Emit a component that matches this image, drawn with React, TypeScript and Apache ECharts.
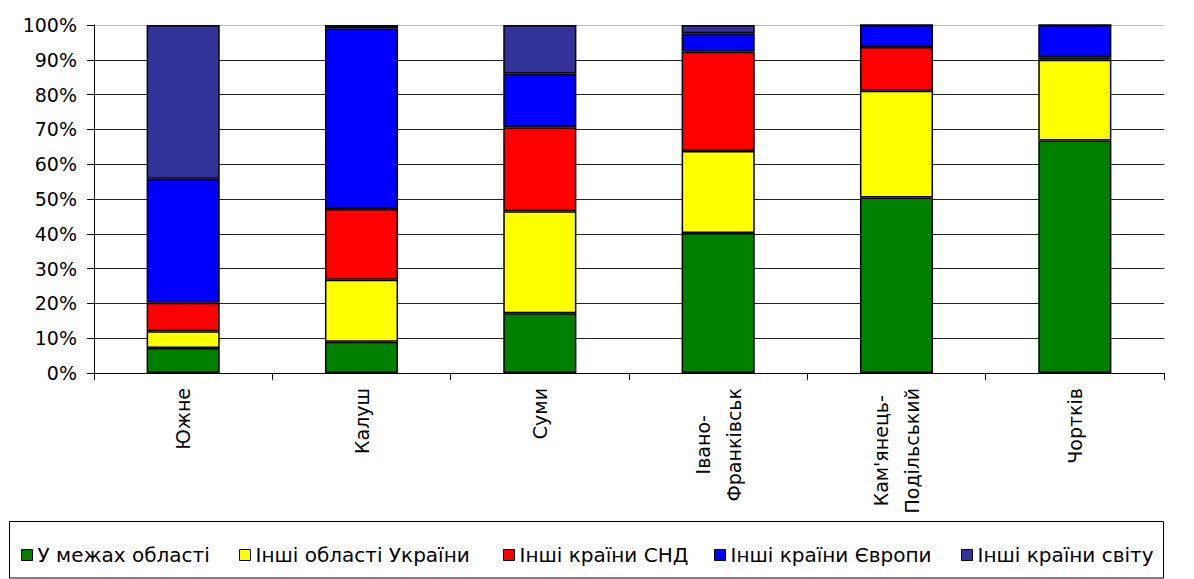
import React, { useEffect, useRef } from "react";
import * as echarts from "echarts";

const categories = ["Южне", "Калуш", "Суми", "Івано-\nФранківськ", "Кам'янець-\nПодільський", "Чортків"];
const seriesNames = ["У межах області", "Інші області України", "Інші країни СНД", "Інші країни Європи", "Інші країни світу"];
const withinRegion = [7.2, 9.0, 17.2, 40.2, 50.4, 66.8];
const otherRegions = [4.8, 17.8, 29.3, 23.6, 30.7, 23.2];
const cisCountries = [8.2, 20.3, 24.1, 28.5, 12.6, 0.7];
const europeCountries = [35.6, 52.0, 15.4, 5.3, 6.3, 9.3];
const worldCountries = [44.2, 0.9, 14.0, 2.4, 0, 0];
const yTicks = [0, 10, 20, 30, 40, 50, 60, 70, 80, 90, 100];

const seriesData = [withinRegion, otherRegions, cisCountries, europeCountries, worldCountries];
const colors = ["#008000", "#FFFF00", "#FF0000", "#0000FF", "#333399"];
const legendLefts = [21, 239, 503, 714, 961];
const FONT = "'DejaVu Sans', 'Liberation Sans', Arial, sans-serif";

export default function App() {
  const ref = useRef<HTMLDivElement>(null);
  useEffect(() => {
    if (!ref.current) return;
    const chart = echarts.init(ref.current, null, { renderer: "svg" });
    const option = {
      animation: false,
      backgroundColor: "#ffffff",
      grid: { left: 94, right: 30, top: 25, bottom: 206, containLabel: false },
      xAxis: {
        type: "category",
        data: categories,
        axisLine: { show: true, lineStyle: { color: "#000", width: 1 } },
        axisTick: { show: true, length: 7, lineStyle: { color: "#000" } },
        axisLabel: {
          rotate: 90,
          margin: 15,
          interval: 0,
          formatter: (v: string) => v.split("\n").map((l) => `{c|${l}}`).join("\n"),
          rich: {
            c: { align: "center", fontSize: 19, fontFamily: FONT, lineHeight: 31, color: "#000" },
          },
        },
        splitLine: { show: false },
      },
      yAxis: {
        type: "value",
        min: yTicks[0],
        max: yTicks[yTicks.length - 1],
        interval: 10,
        axisLine: { show: true, lineStyle: { color: "#000", width: 1 } },
        axisTick: { show: true, length: 7, lineStyle: { color: "#000" } },
        axisLabel: { formatter: "{value}%", fontSize: 19, fontFamily: FONT, color: "#000", margin: 17 },
        splitLine: {
          show: true,
          lineStyle: {
            color: ["#222", "#222", "#222", "#222", "#222", "#222", "#222", "#222", "#222", "#222", "#bbbbbb"],
            width: 1,
          },
        },
      },
      legend: seriesNames.map((name, i) => ({
        data: [name],
        left: legendLefts[i],
        top: 545,
        padding: 0,
        itemWidth: 11,
        itemHeight: 11,
        icon: "rect",
        textStyle: { fontSize: 20, fontFamily: FONT, color: "#000" },
        itemStyle: { borderColor: "#000", borderWidth: 1 },
      })),
      graphic: [
        {
          type: "rect",
          shape: { x: 9.5, y: 521.5, width: 1154, height: 56.5 },
          style: { fill: "none", stroke: "#000", lineWidth: 1 },
          silent: true,
        },
      ],
      series: seriesNames.map((name, i) => ({
        name,
        type: "bar",
        stack: "total",
        barWidth: "41%",
        data: seriesData[i],
        itemStyle: { color: colors[i], borderColor: "#000", borderWidth: 1.5 },
      })),
    };
    chart.setOption(option);
    return () => chart.dispose();
  }, []);
  return (
    <div
      ref={ref}
      style={{ position: "fixed", left: 0, top: 0, width: 1194, height: 579, background: "#fff" }}
    />
  );
}
